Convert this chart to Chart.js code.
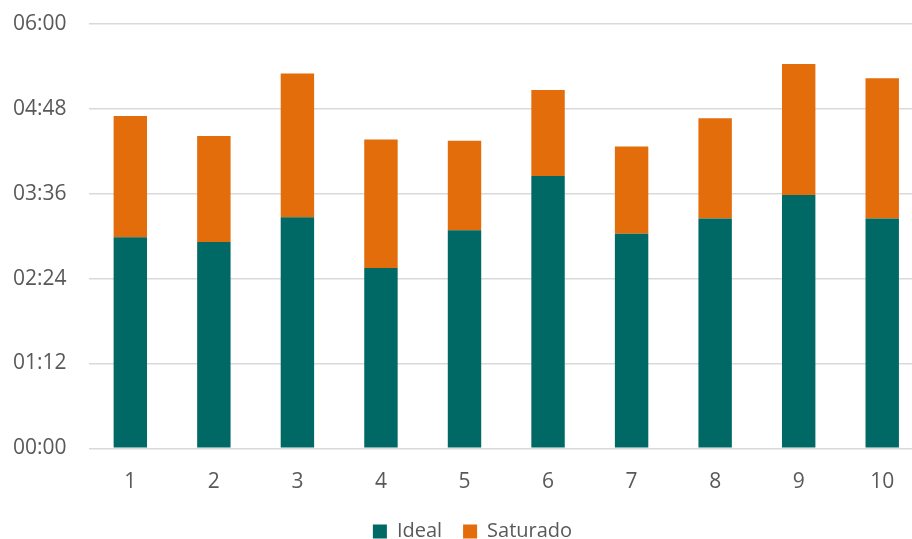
<!DOCTYPE html>
<html>
<head>
<meta charset="utf-8">
<script src="https://cdn.jsdelivr.net/npm/chart.js@4.4.1/dist/chart.umd.min.js"></script>
<style>
  html, body { margin: 0; padding: 0; background: #ffffff; overflow: hidden; }
  #wrap { position: relative; width: 924px; height: 539px; }
</style>
</head>
<body>
<div id="wrap"><canvas id="chart"></canvas></div>
<script>
// Durations in minutes per run
const categories = ['1', '2', '3', '4', '5', '6', '7', '8', '9', '10'];
const idealMinutes = [179, 175, 196, 153, 185, 231, 182, 195, 215, 195];
const saturadoMinutes = [103, 90, 122, 109, 76, 73, 74, 85, 111, 119];
const seriesNames = ['Ideal', 'Saturado'];
const yTickMax = 360;   // 06:00
const yTickStep = 72;   // 01:12

function toHHMM(min) {
  const h = Math.floor(min / 60);
  const m = Math.round(min % 60);
  return String(h).padStart(2, '0') + ':' + String(m).padStart(2, '0');
}

const textColor = '#595959';
const fontFamily = '"Open Sans", "Noto Sans", sans-serif';

// Nudge the legend block after layout
const legendShift = {
  id: 'legendShift',
  afterLayout(chart) {
    const lg = chart.legend;
    if (lg) {
      lg.left += 15; lg.right += 15;
      lg.top -= 7; lg.bottom -= 7;
    }
  }
};

new Chart(document.getElementById('chart'), {
  type: 'bar',
  data: {
    labels: categories,
    datasets: [
      { label: seriesNames[0], data: idealMinutes, backgroundColor: '#016965', borderWidth: 0 },
      { label: seriesNames[1], data: saturadoMinutes, backgroundColor: '#E36C0B', borderWidth: 0 }
    ]
  },
  options: {
    responsive: true,
    maintainAspectRatio: false,
    animation: false,
    layout: { padding: { left: -9, right: 0, top: 24, bottom: -19.5 } },
    datasets: { bar: { barPercentage: 0.4, categoryPercentage: 1.0 } },
    scales: {
      x: {
        stacked: true,
        grid: { display: false },
        border: { display: false },
        ticks: { color: textColor, font: { family: fontFamily, size: 21 }, padding: 13 }
      },
      y: {
        stacked: true,
        min: 0,
        max: yTickMax,
        grid: { color: '#d9d9d9', lineWidth: 1.5, drawTicks: false },
        border: { display: false },
        ticks: {
          stepSize: yTickStep,
          color: textColor,
          font: { family: fontFamily, size: 21 },
          padding: 22,
          callback: (v) => toHHMM(v)
        },
        afterFit(scale) {
          scale.paddingTop = 0;
          scale.paddingBottom = 0;
        }
      }
    },
    plugins: {
      tooltip: { enabled: false },
      legend: {
        position: 'bottom',
        labels: {
          color: textColor,
          font: { family: fontFamily, size: 20 },
          boxWidth: 14,
          boxHeight: 14,
          padding: 21
        }
      }
    }
  },
  plugins: [legendShift]
});
</script>
</body>
</html>
